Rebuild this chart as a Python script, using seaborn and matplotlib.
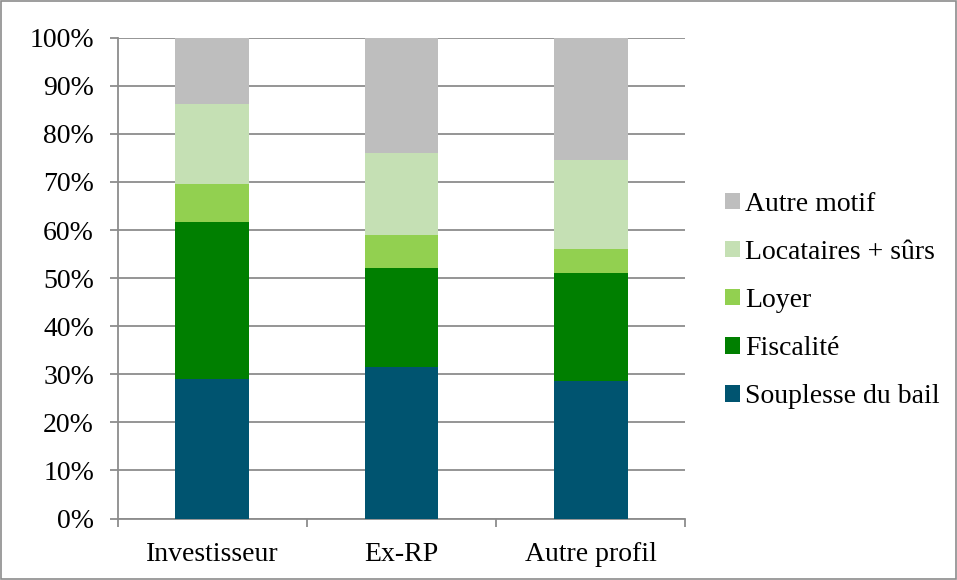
import numpy as np
import pandas as pd
import matplotlib
matplotlib.use("Agg")
import matplotlib.pyplot as plt
import seaborn as sns
from matplotlib.patches import Patch

categories = ["Investisseur", "Ex-RP", "Autre profil"]
souplesse = [29.1, 31.6, 28.5]
fiscalite = [32.5, 20.5, 22.5]
loyer = [8.0, 6.8, 5.0]
locataires = [16.7, 17.1, 18.5]
autre = [13.7, 24.0, 25.5]

series_names = ["Souplesse du bail", "Fiscalité", "Loyer", "Locataires + sûrs", "Autre motif"]
series_vals = [souplesse, fiscalite, loyer, locataires, autre]
colors = ["#005470", "#007F00", "#92D050", "#C5E0B4", "#BEBEBE"]
ytick_labels = ["0%", "10%", "20%", "30%", "40%", "50%", "60%", "70%", "80%", "90%", "100%"]

sns.set_style("white")
plt.rcParams["font.family"] = ["Liberation Serif", "DejaVu Serif"]
plt.rcParams["text.color"] = "black"

FS = 20

fig = plt.figure(figsize=(9.57, 5.8), dpi=100)
ax = fig.add_axes([0.123, 0.106, 0.593, 0.829])

cum = np.cumsum(np.array(series_vals), axis=0)
# draw from the top segment down so lower segments overlay
for i in range(len(series_names) - 1, -1, -1):
    df = pd.DataFrame({"cat": categories, "val": cum[i]})
    sns.barplot(data=df, x="cat", y="val", color=colors[i], saturation=1,
                width=0.39, ax=ax, zorder=3, linewidth=0)

ax.set_ylim(0, 100)
ax.set_xlim(-0.5, 2.5)
ax.set_yticks(np.arange(0, 101, 10))
ax.set_yticklabels(ytick_labels)
ax.set_xlabel("")
ax.set_ylabel("")
ax.yaxis.grid(True, color="#8c8c8c", linewidth=1.3, zorder=0)
ax.set_axisbelow(True)
for s in ["top", "right"]:
    ax.spines[s].set_visible(False)
for s in ["left", "bottom"]:
    ax.spines[s].set_color("#8c8c8c")
    ax.spines[s].set_linewidth(1.3)

ax.tick_params(axis="y", which="major", length=6, width=1.3, color="#8c8c8c",
               labelsize=FS, pad=11, left=True, labelcolor="black")
ax.set_xticks([-0.5, 0.5, 1.5, 2.5], minor=True)
ax.tick_params(axis="x", which="minor", length=6, width=1.3, color="#8c8c8c",
               bottom=True)
ax.tick_params(axis="x", which="major", length=0, labelsize=FS, pad=17, labelcolor="black")

handles = [Patch(facecolor=colors[i], edgecolor="none") for i in range(len(series_names) - 1, -1, -1)]
labels = [series_names[i] for i in range(len(series_names) - 1, -1, -1)]
fig.legend(handles, labels, loc="center left", bbox_to_anchor=(0.7455, 0.482),
           frameon=False, fontsize=FS, handlelength=0.55, handleheight=0.55,
           handletextpad=0.2, labelspacing=0.83, borderaxespad=0, labelcolor="black")

fig.patches.append(plt.Rectangle((0.001, 0.002), 0.998, 0.996, transform=fig.transFigure,
                                 fill=False, edgecolor="#8c8c8c", linewidth=1.2))

fig.savefig("out.png", dpi=100)
